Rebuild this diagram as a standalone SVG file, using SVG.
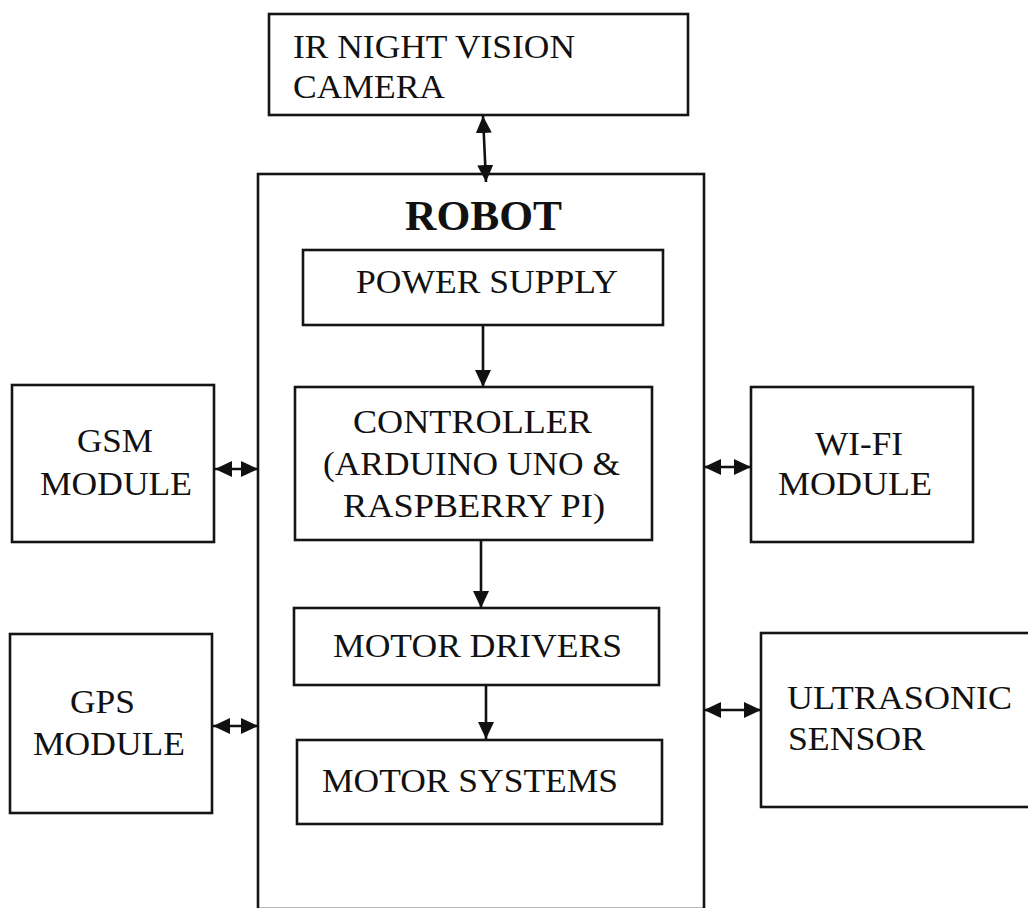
<svg xmlns="http://www.w3.org/2000/svg" width="1028" height="908" viewBox="0 0 1028 908">
<style>
.box{fill:#fff;stroke:#141414;stroke-width:2.6}
.t{font-family:"Liberation Serif","Times New Roman",serif;font-size:34px;fill:#111}
.b{font-family:"Liberation Serif","Times New Roman",serif;font-size:42px;font-weight:bold;fill:#111}
.c{stroke:#111;stroke-width:2.6;fill:none}
</style>
<defs>
<marker id="ah" viewBox="0 0 17 16" refX="17" refY="8" markerWidth="17" markerHeight="16" markerUnits="userSpaceOnUse" orient="auto-start-reverse">
<path d="M0,0 L17,8 L0,16 z" fill="#111"/>
</marker>
</defs>
<rect width="1028" height="908" fill="#fff"/>
<g id="robot">
<rect class="box" x="258" y="174" width="446" height="735"/>
<text class="b" x="405" y="230" textLength="157" lengthAdjust="spacingAndGlyphs">ROBOT</text>
</g>
<g id="camera">
<rect class="box" x="269" y="14" width="419" height="101"/>
<text class="t" x="293" y="58" textLength="282" lengthAdjust="spacingAndGlyphs">IR NIGHT VISION</text>
<text class="t" x="293" y="98" textLength="152" lengthAdjust="spacingAndGlyphs">CAMERA</text>
</g>
<g id="power">
<rect class="box" x="303" y="250" width="360" height="75"/>
<text class="t" x="356" y="293" textLength="262" lengthAdjust="spacingAndGlyphs">POWER SUPPLY</text>
</g>
<g id="controller">
<rect class="box" x="295" y="387" width="357" height="153"/>
<text class="t" x="353" y="433" textLength="239" lengthAdjust="spacingAndGlyphs">CONTROLLER</text>
<text class="t" x="323" y="475" textLength="297" lengthAdjust="spacingAndGlyphs">(ARDUINO UNO &amp;</text>
<text class="t" x="343" y="517" textLength="262" lengthAdjust="spacingAndGlyphs">RASPBERRY PI)</text>
</g>
<g id="drivers">
<rect class="box" x="294" y="608" width="365" height="77"/>
<text class="t" x="333" y="657" textLength="289" lengthAdjust="spacingAndGlyphs">MOTOR DRIVERS</text>
</g>
<g id="systems">
<rect class="box" x="297" y="740" width="365" height="84"/>
<text class="t" x="322" y="792" textLength="296" lengthAdjust="spacingAndGlyphs">MOTOR SYSTEMS</text>
</g>
<g id="gsm">
<rect class="box" x="12" y="385" width="202" height="157"/>
<text class="t" x="77" y="452" textLength="76" lengthAdjust="spacingAndGlyphs">GSM</text>
<text class="t" x="40" y="495" textLength="152" lengthAdjust="spacingAndGlyphs">MODULE</text>
</g>
<g id="gps">
<rect class="box" x="10" y="634" width="202" height="179"/>
<text class="t" x="70" y="713" textLength="65" lengthAdjust="spacingAndGlyphs">GPS</text>
<text class="t" x="33" y="755" textLength="152" lengthAdjust="spacingAndGlyphs">MODULE</text>
</g>
<g id="wifi">
<rect class="box" x="751" y="387" width="222" height="155"/>
<text class="t" x="815" y="455" textLength="88" lengthAdjust="spacingAndGlyphs">WI-FI</text>
<text class="t" x="778" y="495" textLength="154" lengthAdjust="spacingAndGlyphs">MODULE</text>
</g>
<g id="ultrasonic">
<rect class="box" x="761" y="633" width="280" height="174"/>
<text class="t" x="787" y="709" textLength="225" lengthAdjust="spacingAndGlyphs">ULTRASONIC</text>
<text class="t" x="788" y="750" textLength="137" lengthAdjust="spacingAndGlyphs">SENSOR</text>
</g>
<g id="connectors">
<line class="c" x1="483" y1="116" x2="486" y2="182" marker-start="url(#ah)" marker-end="url(#ah)"/>
<line class="c" x1="483" y1="326" x2="483" y2="387" marker-end="url(#ah)"/>
<line class="c" x1="481" y1="541" x2="481" y2="608" marker-end="url(#ah)"/>
<line class="c" x1="486" y1="686" x2="486" y2="739" marker-end="url(#ah)"/>
<line class="c" x1="215" y1="469" x2="258" y2="469" marker-start="url(#ah)" marker-end="url(#ah)"/>
<line class="c" x1="213" y1="726" x2="258" y2="726" marker-start="url(#ah)" marker-end="url(#ah)"/>
<line class="c" x1="704" y1="467" x2="751" y2="467" marker-start="url(#ah)" marker-end="url(#ah)"/>
<line class="c" x1="704" y1="710" x2="761" y2="710" marker-start="url(#ah)" marker-end="url(#ah)"/>
</g>
</svg>
